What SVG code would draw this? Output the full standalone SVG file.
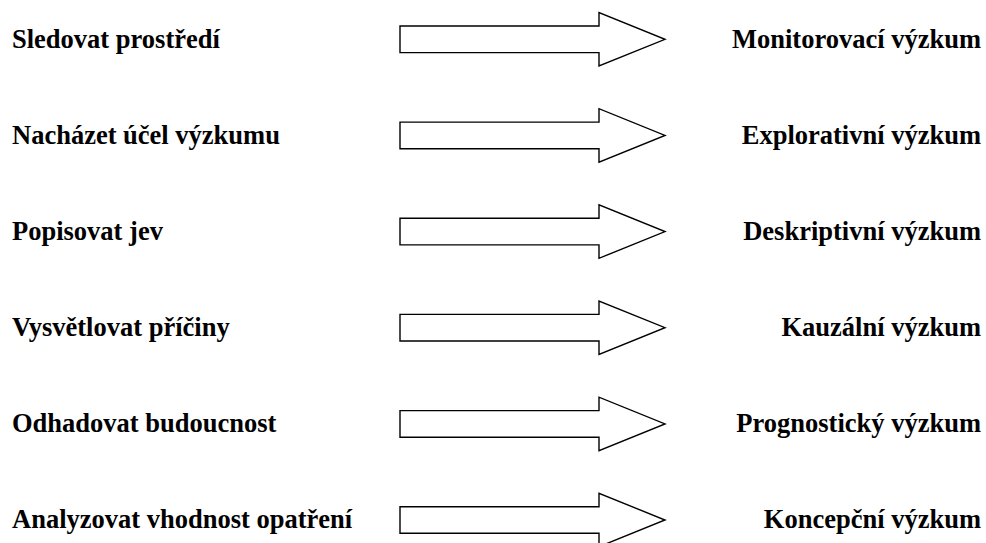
<svg xmlns="http://www.w3.org/2000/svg" width="986" height="543" viewBox="0 0 986 543">
<defs>
<style>
.t{font-family:"Liberation Serif","Times New Roman",serif;font-weight:bold;font-size:26.5px;fill:#000}
.r{text-anchor:end}
.a{fill:#fff;stroke:#000;stroke-width:1.4;stroke-linejoin:miter}
</style>
<path id="arr" d="M400,-13.3 H599 V-26.7 L665,0 L599,26.7 V13.3 H400 Z"/>
</defs>
<rect width="986" height="543" fill="#fff"/>
<g id="connectors">
<use href="#arr" class="a" transform="translate(0,39.3)"/>
<use href="#arr" class="a" transform="translate(0,135.4)"/>
<use href="#arr" class="a" transform="translate(0,231.6)"/>
<use href="#arr" class="a" transform="translate(0,327.7)"/>
<use href="#arr" class="a" transform="translate(0,423.9)"/>
<use href="#arr" class="a" transform="translate(0,520)"/>
</g>
<g id="n1"><text class="t" x="12" y="47.5">Sledovat prostředí</text></g>
<g id="n2"><text class="t" x="12" y="143.6">Nacházet účel výzkumu</text></g>
<g id="n3"><text class="t" x="12" y="239.7">Popisovat jev</text></g>
<g id="n4"><text class="t" x="12" y="335.8">Vysvětlovat příčiny</text></g>
<g id="n5"><text class="t" x="12" y="431.9">Odhadovat budoucnost</text></g>
<g id="n6"><text class="t" x="12" y="528">Analyzovat vhodnost opatření</text></g>
<g id="m1"><text class="t r" x="981" y="47.5">Monitorovací výzkum</text></g>
<g id="m2"><text class="t r" x="981" y="143.6">Explorativní výzkum</text></g>
<g id="m3"><text class="t r" x="981" y="239.7">Deskriptivní výzkum</text></g>
<g id="m4"><text class="t r" x="981" y="335.8">Kauzální výzkum</text></g>
<g id="m5"><text class="t r" x="981" y="431.9">Prognostický výzkum</text></g>
<g id="m6"><text class="t r" x="981" y="528">Koncepční výzkum</text></g>
</svg>
